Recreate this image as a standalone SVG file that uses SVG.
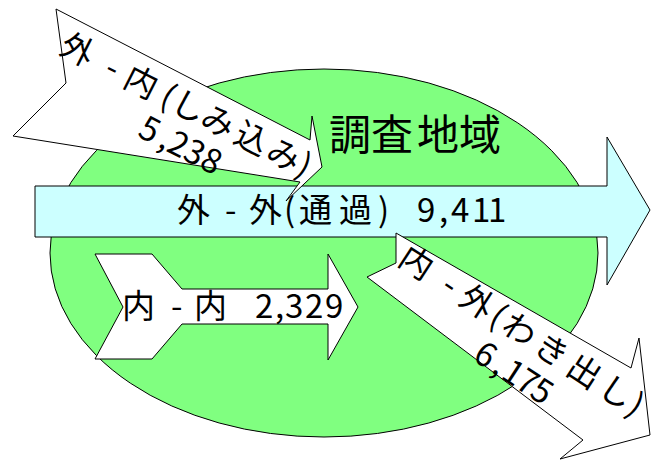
<svg xmlns="http://www.w3.org/2000/svg" width="658" height="461" viewBox="0 0 658 461">
<style>
.shape{stroke:#000;stroke-width:1;stroke-linejoin:miter}
.white{fill:#fff}
.lbl{font-family:"Noto Sans CJK JP","Noto Sans",sans-serif;fill:#000}
</style>
<rect width="658" height="461" fill="#fff"/>
<g id="region">
<ellipse class="shape" cx="324" cy="253" rx="274" ry="184" fill="#80FF80"/>
<text class="lbl" x="329 371 417 459" y="150" font-size="42">調査地域</text>
</g>
<g id="connectors">
<g id="flow-through">
<polygon class="shape" fill="#CCFFFF" points="35,186 607,186 607,137 650,210 607,285 607,237 35,237"/>
<text class="lbl" font-size="33" y="222" x="177 210 225 236 249 284 299 339 378 395 417 439 451 472 488">外 - 外(通過) 9,411</text>
</g>
<g id="flow-in">
<polygon class="shape white" points="56,9 310,140 312,116 322,167 286,201 300,182 13,136 66,83"/>
<g transform="translate(194.9,108.7) rotate(27)">
<text class="lbl" font-size="33" y="12.5" x="-147.8 -120 -97.4 -85 -76.2 -35 -22.9 10.1 47.7 83.9 118">外 - 内(しみ込み)</text>
<text class="lbl" font-size="33" y="50.8" x="-40 -17 -7.8 10.6 29.3">5,238</text>
</g>
</g>
<g id="flow-out">
<polygon class="shape white" points="396,233 631,368 639,338 650,435 560,459 583,440 367,277 396,263"/>
<g transform="translate(417,262) rotate(33)">
<text class="lbl" font-size="33" y="12.5" x="-16.5 17 34.5 46 55.5 92 106.5 144.5 183.5 221.5 256">内 - 外(わき出し)</text>
<text class="lbl" font-size="33" y="52" x="98.8 121 132 149 166">6,175</text>
</g>
</g>
<g id="flow-internal">
<polygon class="shape white" points="95,254 152,254 182,289 328,289 328,254 358,307 328,360 328,324 182,324 152,359 95,359 123,307"/>
<text class="lbl" font-size="33" y="318" x="122 150 171 185 194 228 255 275 285 305 325">内 - 内 2,329</text>
</g>
</g>
</svg>
